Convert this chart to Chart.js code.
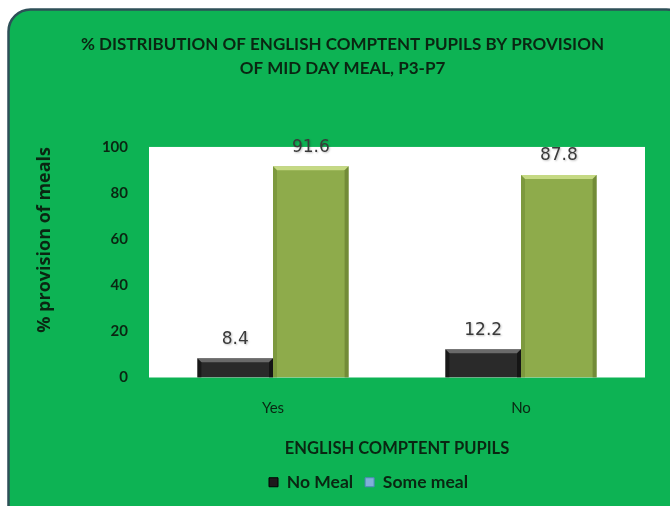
<!DOCTYPE html>
<html>
<head>
<meta charset="utf-8">
<script src="https://cdn.jsdelivr.net/npm/chart.js@4/dist/chart.umd.min.js"></script>
<style>
  html, body { margin: 0; padding: 0; background: #fff; }
  #wrap { width: 670px; height: 506px; }
</style>
</head>
<body>
<div id="wrap"><canvas id="mealChart" width="670" height="506"></canvas></div>
<script>
const categories = ['Yes', 'No'];
const noMeal = [8.4, 12.2];
const someMeal = [91.6, 87.8];
const yTicks = [0, 20, 40, 60, 80, 100];

const TEXT_DARK = '#0a2612';

// green rounded panel behind everything, white plot area
const panelBg = {
  id: 'panelBg',
  beforeDraw(chart) {
    const c = chart.ctx;
    const a = chart.chartArea;
    c.save();
    c.fillStyle = '#fff';
    c.fillRect(0, 0, chart.width, chart.height);
    c.beginPath();
    c.roundRect(8.5, 9.5, 680, 520, 22);
    c.fillStyle = '#0db354';
    c.fill();
    c.lineWidth = 2.5;
    c.strokeStyle = '#2e5058';
    c.stroke();
    c.fillStyle = '#fff';
    c.fillRect(a.left, a.top, a.right - a.left, a.bottom - a.top);
    c.restore();
  }
};

// nudge the title and legend boxes to the right
const boxNudge = {
  id: 'boxNudge',
  afterLayout(chart) {
    const shift = (box, dx) => { if (box) { box.left += dx; box.right += dx; } };
    shift(chart.titleBlock, 20);
    shift(chart.legend, 46);
  }
};

// bevel highlights on the bars and value labels above them
const barFinish = {
  id: 'barFinish',
  afterDatasetsDraw(chart) {
    const c = chart.ctx;
    c.save();
    chart.data.datasets.forEach((ds, di) => {
      const meta = chart.getDatasetMeta(di);
      meta.data.forEach((bar, i) => {
        const x0 = bar.x - bar.width / 2, x1 = bar.x + bar.width / 2;
        const y0 = bar.y, y1 = bar.base;
        const b = 4;
        // top bevel
        c.beginPath();
        c.moveTo(x0, y0); c.lineTo(x1, y0); c.lineTo(x1 - b, y0 + b); c.lineTo(x0 + b, y0 + b); c.closePath();
        c.fillStyle = di === 0 ? 'rgba(150,150,150,0.6)' : 'rgba(215,232,150,0.75)';
        c.fill();
        // right shade
        c.beginPath();
        c.moveTo(x1, y0); c.lineTo(x1, y1); c.lineTo(x1 - b, y1); c.lineTo(x1 - b, y0 + b); c.closePath();
        c.fillStyle = di === 0 ? 'rgba(0,0,0,0.5)' : 'rgba(80,100,30,0.45)';
        c.fill();
        // left shade
        c.beginPath();
        c.moveTo(x0, y0); c.lineTo(x0 + b, y0 + b); c.lineTo(x0 + b, y1); c.lineTo(x0, y1); c.closePath();
        c.fillStyle = di === 0 ? 'rgba(0,0,0,0.4)' : 'rgba(95,120,40,0.35)';
        c.fill();

        const v = ds.data[i];
        c.font = '17px "DejaVu Sans"';
        c.textAlign = 'center';
        c.textBaseline = 'middle';
        c.shadowColor = 'rgba(0,0,0,0.25)';
        c.shadowOffsetX = 1;
        c.shadowOffsetY = 1;
        c.shadowBlur = 2;
        c.fillStyle = '#3a3a3a';
        c.fillText(v.toFixed(1), bar.x, bar.y - 19);
        c.shadowColor = 'transparent';
      });
    });
    c.restore();
  }
};

function barGradient(ctx, stops) {
  const chart = ctx.chart;
  const el = ctx.element;
  if (!chart.chartArea || !el || !Number.isFinite(el.x) || !Number.isFinite(el.width)) return stops[1];
  const g = chart.ctx.createLinearGradient(el.x - el.width / 2, 0, el.x + el.width / 2, 0);
  g.addColorStop(0, stops[0]);
  g.addColorStop(0.5, stops[1]);
  g.addColorStop(1, stops[2]);
  return g;
}

new Chart(document.getElementById('mealChart'), {
  type: 'bar',
  data: {
    labels: categories,
    datasets: [
      {
        label: 'No Meal',
        data: noMeal,
        backgroundColor: ctx => barGradient(ctx, ['#1c1c1c', '#2a2a2a', '#141414']),
        borderWidth: 0
      },
      {
        label: 'Some meal',
        data: someMeal,
        backgroundColor: ctx => barGradient(ctx, ['#87a444', '#8eab4b', '#84a042']),
        borderWidth: 0
      }
    ]
  },
  options: {
    responsive: false,
    animation: false,
    categoryPercentage: 0.61,
    barPercentage: 1,
    layout: { padding: { left: 0, right: 25, top: 0, bottom: 5 } },
    scales: {
      x: {
        afterFit: scale => { scale.height = 84; },
        grid: { display: false, drawTicks: false },
        border: { display: false },
        ticks: { color: TEXT_DARK, font: { family: 'Lato', size: 15 }, padding: 22 },
        title: {
          display: true,
          text: 'ENGLISH COMPTENT PUPILS',
          color: TEXT_DARK,
          font: { family: 'Lato', size: 16.5, weight: 'bold' },
          padding: { top: 10, bottom: 3 }
        }
      },
      y: {
        min: 0,
        max: 100,
        afterBuildTicks: scale => { scale.ticks = yTicks.map(v => ({ value: v })); },
        afterFit: scale => { scale.width = 149; },
        grid: { display: false, drawTicks: false },
        border: { display: false },
        ticks: { color: TEXT_DARK, font: { family: 'Lato', size: 15, weight: 'bold' }, padding: 21 },
        title: {
          display: true,
          text: '% provision of meals',
          align: 'end',
          color: TEXT_DARK,
          font: { family: 'Open Sans', size: 18, weight: 'bold' },
          padding: { top: 34, bottom: 0 }
        }
      }
    },
    plugins: {
      title: {
        display: true,
        text: ['% DISTRIBUTION OF ENGLISH COMPTENT PUPILS BY PROVISION', 'OF MID DAY MEAL, P3-P7'],
        color: TEXT_DARK,
        font: { family: 'Lato', size: 17, weight: 'bold', lineHeight: 1.41 },
        padding: { top: 33, bottom: 66 }
      },
      legend: {
        position: 'bottom',
        labels: {
          color: TEXT_DARK,
          font: { family: 'Lato', size: 17.5, weight: 'bold' },
          boxWidth: 9,
          boxHeight: 9,
          padding: 12,
          generateLabels: chart => chart.data.datasets.map((ds, i) => ({
            text: ds.label,
            fillStyle: i === 0 ? '#1e1a1c' : '#7fb0d8',
            strokeStyle: i === 0 ? '#000' : '#4f86b8',
            fontColor: TEXT_DARK,
            lineWidth: 1,
            datasetIndex: i
          }))
        }
      },
      tooltip: { enabled: false }
    }
  },
  plugins: [panelBg, boxNudge, barFinish]
});
</script>
</body>
</html>
